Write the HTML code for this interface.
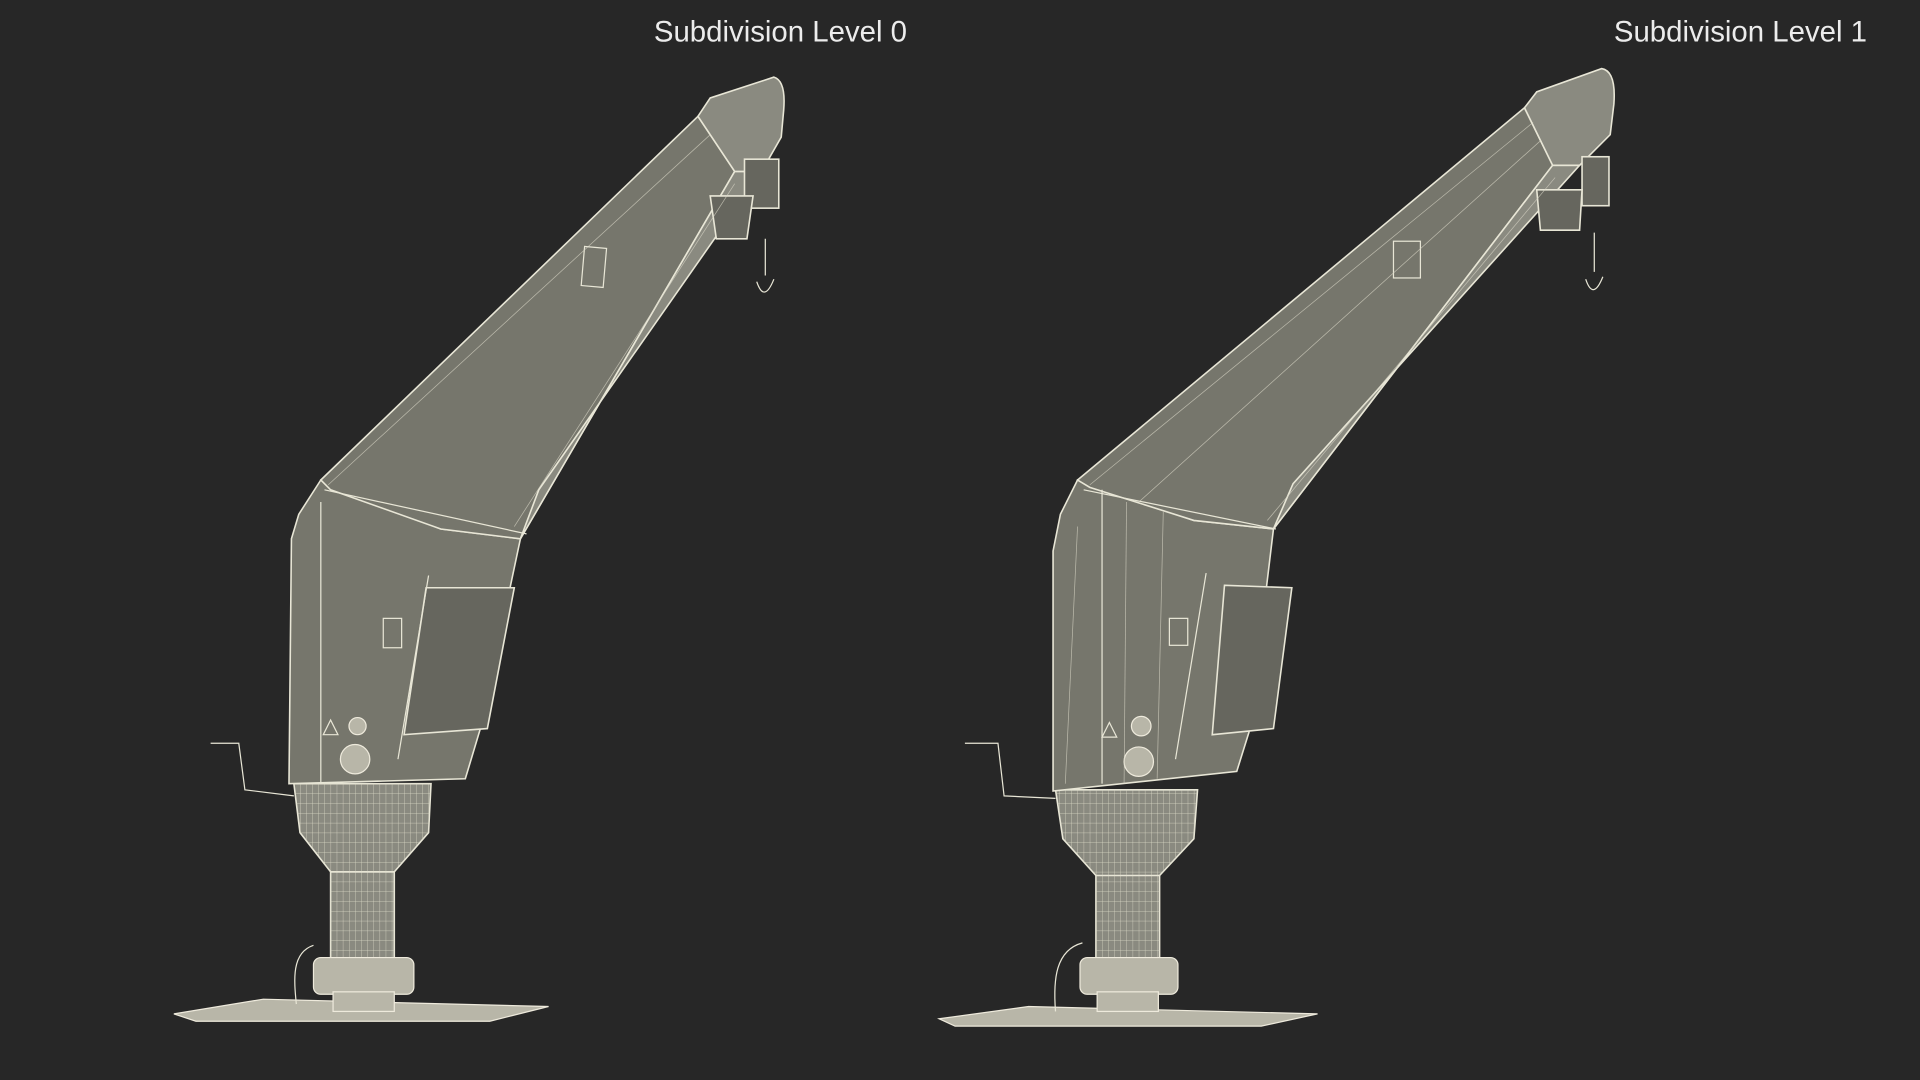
<!DOCTYPE html>
<html><head><style>
html,body{margin:0;padding:0;background:#272727;width:1920px;height:1080px;overflow:hidden}
svg{display:block}
.t{font-family:"Liberation Sans",sans-serif;font-size:24px;fill:#ececec}
.f{fill:#76766c;stroke:#e8e6d6;stroke-width:1.3}
.d{fill:#66665e;stroke:#e8e6d6;stroke-width:1.3}
.l{fill:#8a8a80;stroke:#e8e6d6;stroke-width:1.3}
.w{fill:none;stroke:#e8e6d6;stroke-width:1}
.g{fill:none;stroke:#d8d6c6;stroke-width:0.6;opacity:0.7}
.m{fill:#b8b6a8;stroke:#eeeadc;stroke-width:1}
</style></head><body>
<svg width="1920" height="1080" viewBox="0 0 1568 882">
<defs>
<pattern id="vl" width="5" height="8" patternUnits="userSpaceOnUse"><path d="M0,0 V8 M0,0 H5" stroke="#dcdac8" stroke-width="0.6" fill="none"/></pattern>
</defs>
<text class="t" x="534" y="34">Subdivision Level 0</text>
<text class="t" x="1318" y="34">Subdivision Level 1</text>

<g id="c1">
<polygon class="m" points="142,828 215,816 448,822 400,834 160,834"/>
<rect class="l" x="270" y="712" width="52" height="78"/>
<rect x="270" y="712" width="52" height="78" fill="url(#vl)"/>
<rect class="m" x="256" y="782" width="82" height="30" rx="6"/>
<rect class="m" x="272" y="810" width="50" height="16"/>
<path class="w" d="M256,772 C238,778 240,800 242,820" stroke-width="4"/>
<polygon class="l" points="240,640 352,640 350,680 322,712 270,712 245,680"/>
<polygon points="240,640 352,640 350,680 322,712 270,712 245,680" fill="url(#vl)"/>
<polygon class="f" points="262,392 244,420 238,440 236,640 380,636 392,596 425,440 360,432"/>
<polygon class="d" points="348,480 420,480 398,595 330,600"/>
<polygon class="f" points="262,392 570,95 600,140 425,440 360,432 270,400"/>
<polygon class="l" points="600,140 622,140 440,400 425,440"/>
<path class="l" d="M570,95 L580,80 L632,63 Q642,66 640,90 L638,112 L622,140 L600,140 Z"/>
<rect class="d" x="608" y="130" width="28" height="40"/>
<polygon class="d" points="580,160 615,160 610,195 585,195"/>
<path class="w" d="M625,195 L625,225 M618,230 q6,18 14,-2" stroke-width="3"/>
<rect class="w" x="476" y="202" width="18" height="32" transform="rotate(5 485 218)"/>
<rect class="w" x="313" y="505" width="15" height="24"/>
<circle class="m" cx="292" cy="593" r="7"/>
<circle class="m" cx="290" cy="620" r="12"/>
<path class="w" d="M264,600 l6,-12 l6,12 z"/>
<path class="w" d="M172,607 L195,607 L200,645 L240,650" stroke-width="4"/>
<line class="w" x1="265" y1="400" x2="430" y2="436"/>
<line class="w" x1="262" y1="410" x2="262" y2="640"/>
<line class="w" x1="350" y1="470" x2="325" y2="620"/>
<line class="g" x1="268" y1="396" x2="580" y2="110"/>
<line class="g" x1="420" y1="430" x2="600" y2="150"/>
</g>

<g id="c2">
<polygon class="m" points="767,832 840,822 1076,828 1030,838 780,838"/>
<rect class="l" x="895" y="712" width="52" height="78"/>
<rect x="895" y="712" width="52" height="78" fill="url(#vl)"/>
<rect class="m" x="882" y="782" width="80" height="30" rx="6"/>
<rect class="m" x="896" y="810" width="50" height="16"/>
<path class="w" d="M884,770 C862,776 860,800 862,826" stroke-width="4"/>
<polygon class="l" points="862,645 978,645 975,685 947,715 895,715 868,685"/>
<polygon points="862,645 978,645 975,685 947,715 895,715 868,685" fill="url(#vl)"/>
<polygon class="f" points="880,392 866,420 860,450 860,646 1010,630 1020,598 1040,432 975,425"/>
<polygon class="d" points="1000,478 1055,480 1040,595 990,600"/>
<polygon class="f" points="880,392 1245,88 1268,135 1040,432 975,425 890,398"/>
<polygon class="l" points="1268,135 1290,135 1056,395 1040,432"/>
<path class="l" d="M1245,88 L1255,75 L1308,56 Q1320,58 1318,85 L1315,110 L1290,135 L1268,135 Z"/>
<rect class="d" x="1292" y="128" width="22" height="40"/>
<polygon class="d" points="1255,155 1292,155 1290,188 1258,188"/>
<path class="w" d="M1302,190 L1302,222 M1295,228 q6,18 14,-2" stroke-width="3"/>
<rect class="w" x="1138" y="197" width="22" height="30"/>
<rect class="w" x="955" y="505" width="15" height="22"/>
<circle class="m" cx="932" cy="593" r="8"/>
<circle class="m" cx="930" cy="622" r="12"/>
<path class="w" d="M900,602 l6,-12 l6,12 z"/>
<path class="w" d="M788,607 L815,607 L820,650 L862,652" stroke-width="4"/>
<line class="w" x1="885" y1="400" x2="1042" y2="432"/>
<line class="w" x1="900" y1="400" x2="900" y2="640"/>
<line class="w" x1="985" y1="468" x2="960" y2="620"/>
<line class="g" x1="890" y1="396" x2="1252" y2="100"/>
<line class="g" x1="930" y1="410" x2="1258" y2="115"/>
<line class="g" x1="1035" y1="425" x2="1270" y2="145"/>
<line class="g" x1="880" y1="430" x2="870" y2="640"/>
<line class="g" x1="920" y1="410" x2="918" y2="640"/>
<line class="g" x1="950" y1="418" x2="945" y2="636"/>
</g>
</svg>
</body></html>
